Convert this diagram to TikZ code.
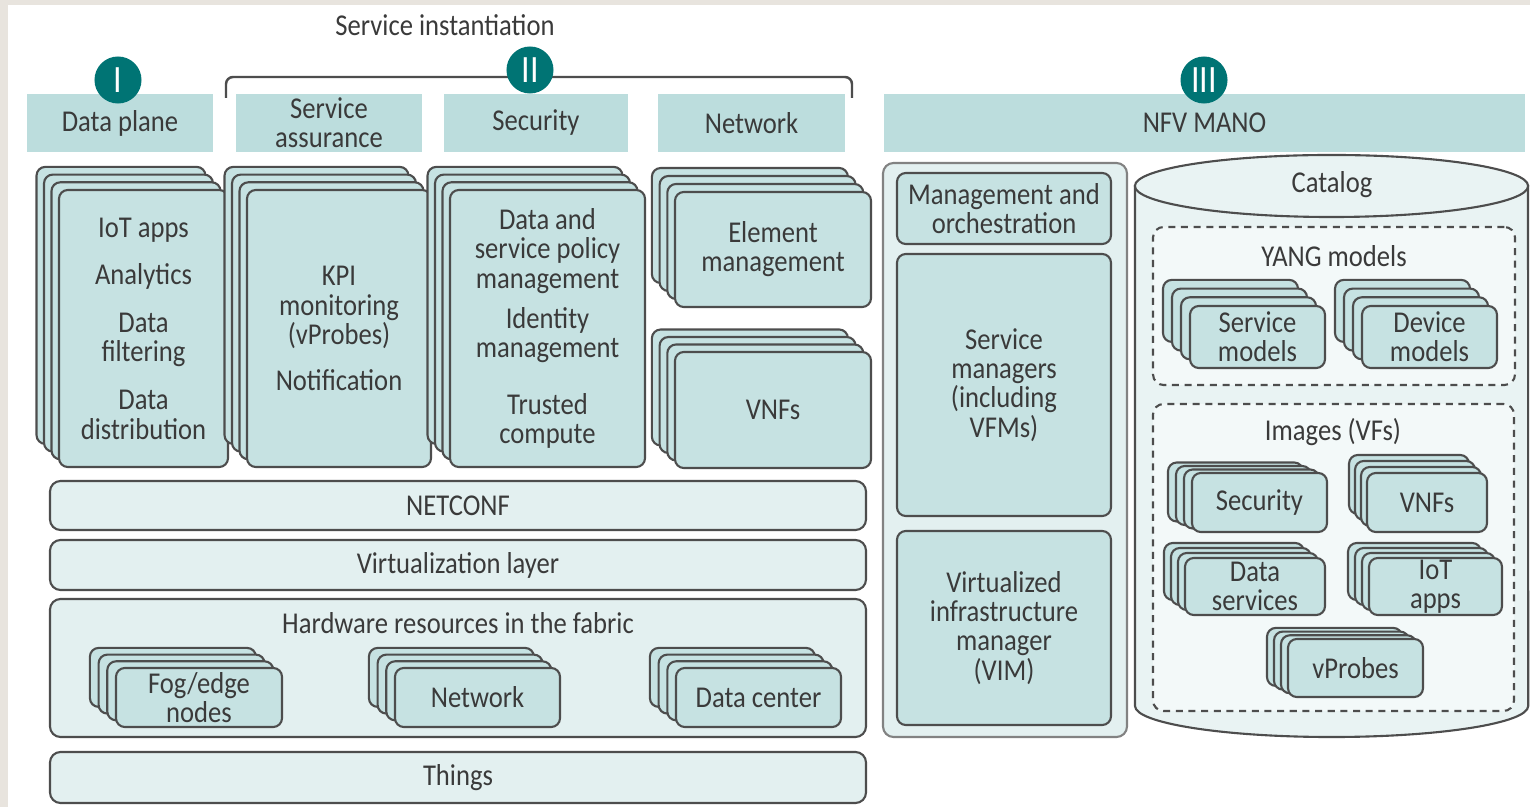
\documentclass[tikz,border=0pt]{standalone}
\usepackage{fontspec}
\setmainfont{Carlito}[FakeStretch=0.88]
\usepackage{tikz}

\definecolor{frame}{HTML}{E8E4DE}
\definecolor{ink}{HTML}{3A3A3A}
\definecolor{edge}{HTML}{4D4D4D}
\definecolor{headfill}{HTML}{BCDDDD}
\definecolor{cardfill}{HTML}{C6E2E2}
\definecolor{barfill}{HTML}{E3F0F0}
\definecolor{cylfill}{HTML}{E9F3F3}
\definecolor{dashfill}{HTML}{F3F9F9}
\definecolor{badgefill}{HTML}{007474}

\newcommand{\lbl}{\fontsize{8.6}{8.3}\selectfont}

\tikzset{
  head/.style={fill=headfill, align=center, inner sep=0pt},
  card/.style={draw=edge, fill=cardfill, line width=0.6pt, rounded corners=2.5pt, align=center, inner sep=0pt},
  bar/.style={draw=edge, fill=barfill, line width=0.6pt, rounded corners=3pt, align=center, inner sep=0pt},
  panel/.style={draw=edge!70, fill=barfill, line width=0.6pt, rounded corners=3pt, inner sep=0pt},
  dashbox/.style={draw=edge, fill=dashfill, line width=0.6pt, dash pattern=on 2pt off 1.6pt, rounded corners=3pt, inner sep=0pt},
  cyl/.style={draw=edge, fill=cylfill, line width=0.6pt},
  badge/.style={circle, fill=badgefill, text=white, minimum size=0.47cm, inner sep=0pt, font=\fontsize{11}{11}\selectfont},
  bracket/.style={draw=edge, line width=0.7pt, rounded corners=2pt},
}

% box from its corners in pixel units: style, name, x1, y1, x2, y2, text
\newcommand{\panelbox}[7]{%
  \node[#1, minimum width={(#5-#3)*0.01cm}, minimum height={(#6-#4)*0.01cm}] (#2) at ({(#3+#5)/2},{(#4+#6)/2}) {#7};}

% stack of four cards: name, x1, y1, x2, y2 of the front card, dx, dy, text
\newcommand{\cardstack}[8]{%
  \foreach \k in {3,2,1}
    \draw[card] ({#2-\k*#6},{#3-\k*#7}) rectangle ({#4-\k*#6},{#5-\k*#7});
  \panelbox{card}{#1}{#2}{#3}{#4}{#5}{#8}}

\begin{document}
\begin{tikzpicture}[x=0.01cm, y=-0.01cm, every node/.style={font=\lbl, text=ink}]
\useasboundingbox (0,0) rectangle (1530,807);
\fill[frame] (0,0) rectangle (1530,807);
\fill[white] (8,5) rectangle (1530,807);

% service instantiation bracket
\node (inst) at (445,25) {Service instantiation};
\coordinate (brl) at (226,98);
\coordinate (brtop) at (530,77);
\coordinate (brr) at (852,98);
\draw[bracket] (brl) |- (brtop) -| (brr);

% headers
\panelbox{head}{dataplane}{27}{94}{213}{152}{Data plane}
\panelbox{head}{svcassur}{236}{94}{422}{152}{Service\\assurance}
\panelbox{head}{secur}{444}{94}{628}{152}{Security}
\panelbox{head}{netw}{658}{94}{845}{152}{Network}
\panelbox{head}{nfvmano}{884}{94}{1525}{152}{NFV MANO}

\node[badge] (one) at (118,80) {I};
\node[badge] (two) at (530,70) {II};
\node[badge] (three) at (1204,80) {III};

% columns of cards
\cardstack{iotcol}{59}{190}{228}{467}{7.5}{7.7}{IoT apps\\[5.3pt]Analytics\\[5.3pt]Data\\filtering\\[5.3pt]Data\\distribution}
\cardstack{kpicol}{247}{190}{431}{467}{7.5}{7.7}{KPI\\monitoring\\(vProbes)\\[4.8pt]Notification}
\cardstack{policycol}{450}{190}{645}{467}{7.5}{7.7}{Data and\\service policy\\management\\[3.1pt]Identity\\management\\[7.9pt]Trusted\\compute}
\cardstack{elemmgmt}{675}{192}{871}{307}{7.7}{8}{Element\\management}
\cardstack{vnfcol}{675}{352}{871}{468}{7.7}{7.5}{VNFs}

% layers
\panelbox{bar}{netconf}{50}{481}{866}{530}{NETCONF}
\panelbox{bar}{virt}{50}{540}{866}{590}{Virtualization layer}
\panelbox{bar}{hw}{50}{599}{866}{737}{}
\node (hwlbl) at (458,623) {Hardware resources in the fabric};
\cardstack{fog}{116}{668}{282}{727}{8.7}{6.7}{Fog/edge\\nodes}
\cardstack{hwnet}{395}{668}{560}{727}{8.7}{6.7}{Network}
\cardstack{dc}{676}{668}{841}{727}{8.7}{6.7}{Data center}
\panelbox{bar}{things}{50}{752}{866}{803}{Things}

% NFV MANO
\panelbox{panel}{mano}{883}{163}{1127}{737}{}
\panelbox{card}{mgmtorch}{897}{173}{1111}{244}{Management and\\orchestration}
\panelbox{card}{svcmgr}{897}{254}{1111}{516}{Service\\managers\\(including\\VFMs)}
\panelbox{card}{vim}{897}{531}{1111}{725}{Virtualized\\infrastructure\\manager\\(VIM)}

% catalog
\filldraw[cyl] (1135,186) -- (1135,706) arc[start angle=180, end angle=360, x radius=1.965cm, y radius=0.31cm] -- (1528,186) -- cycle;
\filldraw[cyl] (1331.5,186) ellipse [x radius=1.965cm, y radius=0.31cm];
\node (catalog) at (1332,185) {Catalog};

\panelbox{dashbox}{yang}{1153}{227}{1515}{385}{}
\node (yanglbl) at (1334,256) {YANG models};
\cardstack{svcmodels}{1190}{306}{1325}{368}{9}{8.7}{Service\\models}
\cardstack{devmodels}{1362}{306}{1497}{368}{9}{8.7}{Device\\models}

\panelbox{dashbox}{images}{1153}{404}{1514}{711}{}
\node (imglbl) at (1333,432) {Images (VFs)};
\cardstack{imgsec}{1192}{473}{1327}{532}{8}{3.5}{Security}
\cardstack{imgvnf}{1367}{473}{1487}{532}{6}{6}{VNFs}
\cardstack{imgdata}{1185}{558}{1325}{615}{7}{5}{Data\\services}
\cardstack{imgiot}{1369}{558}{1502}{615}{7}{5}{IoT\\apps}
\cardstack{imgvprobe}{1288}{639}{1423}{697}{7}{3.7}{vProbes}
\end{tikzpicture}
\end{document}
